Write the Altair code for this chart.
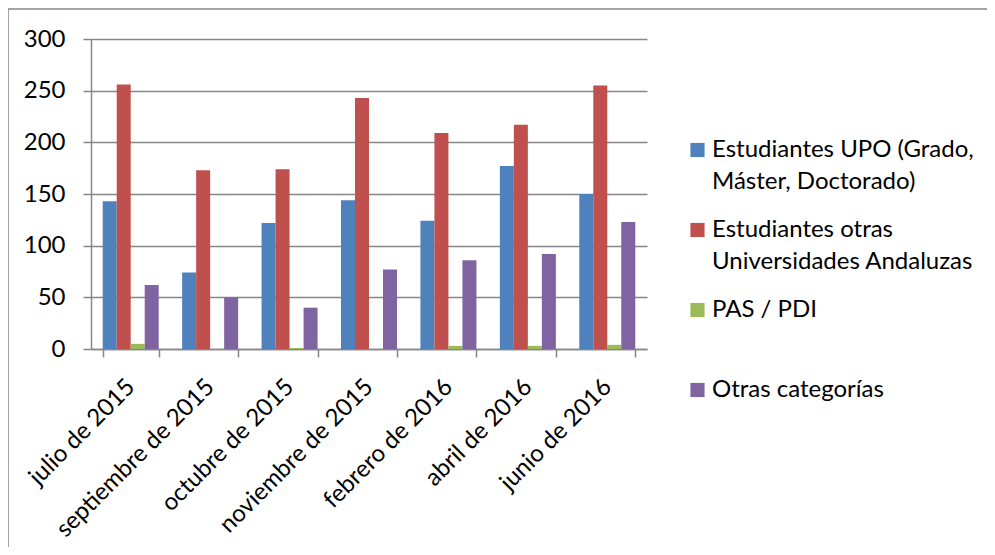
import altair as alt
import pandas as pd

months = ["julio de 2015", "septiembre de 2015", "octubre de 2015", "noviembre de 2015",
          "febrero de 2016", "abril de 2016", "junio de 2016"]
series = ["Estudiantes UPO (Grado, Máster, Doctorado)",
          "Estudiantes otras Universidades Andaluzas",
          "PAS / PDI",
          "Otras categorías"]
legend_lines = [["Estudiantes UPO (Grado,", "Máster, Doctorado)"],
                ["Estudiantes otras", "Universidades Andaluzas"],
                ["PAS / PDI"],
                ["Otras categorías"]]
upo = [143, 74, 122, 144, 124, 177, 150]
otras_univ = [256, 173, 174, 243, 209, 217, 255]
pas_pdi = [5, 0, 1, 0, 3, 3, 4]
otras_cat = [62, 50, 40, 77, 86, 92, 123]
colors = ["#4F81BD", "#C0504D", "#9BBB59", "#8064A2"]

FONT = "Lato"
FS = 24
W, H = 556, 310

rows = []
for vals, s in zip([upo, otras_univ, pas_pdi, otras_cat], series):
    for m, v in zip(months, vals):
        rows.append({"mes": m, "serie": s, "valor": v})
df = pd.DataFrame(rows)

leg_rows = []
for i, (s, lines) in enumerate(zip(series, legend_lines)):
    for j, t in enumerate(lines):
        leg_rows.append({"serie": s, "i": i, "j": j, "txt": t})
leg = pd.DataFrame(leg_rows)

bars = alt.Chart(df).mark_bar().encode(
    x=alt.X("mes:N", sort=months, title=None,
            scale=alt.Scale(paddingInner=0.295, paddingOuter=0.1475),
            axis=alt.Axis(labelAngle=-45, labelAlign="right", labelBaseline="middle",
                          labelPadding=26, labelOffset=0, tickBand="extent", tickSize=8,
                          domainColor="#868686", tickColor="#868686", domainWidth=1.5,
                          tickWidth=1.5, labelFont=FONT, labelFontSize=FS,
                          labelColor="#000000", grid=False, labelLimit=400)),
    xOffset=alt.XOffset("serie:N", sort=series,
                        scale=alt.Scale(paddingInner=0, paddingOuter=0)),
    y=alt.Y("valor:Q", title=None,
            scale=alt.Scale(domain=[0, 300], nice=False),
            axis=alt.Axis(values=[0, 50, 100, 150, 200, 250, 300], grid=True,
                          gridColor="#868686", gridWidth=1.5, domainColor="#868686",
                          domainWidth=1.5, tickColor="#868686", tickWidth=1.5,
                          tickSize=8, labelPadding=18, labelFont=FONT,
                          labelFontSize=FS, labelColor="#000000")),
    color=alt.Color("serie:N", sort=series,
                    scale=alt.Scale(domain=series, range=colors), legend=None),
)

leg_sq = alt.Chart(leg).transform_filter("datum.j == 0").transform_calculate(
    lx="606.5", ly="111 + 80 * datum.i"
).mark_square(size=200, opacity=1).encode(
    x=alt.X("lx:Q", scale=None, axis=None),
    y=alt.Y("ly:Q", scale=None, axis=None),
    color=alt.Color("serie:N", sort=series,
                    scale=alt.Scale(domain=series, range=colors), legend=None),
)

leg_txt = alt.Chart(leg).transform_calculate(
    lx="621", ly="111 + 80 * datum.i + 31.5 * datum.j"
).mark_text(align="left", baseline="middle", font=FONT, fontSize=FS,
            color="#000000").encode(
    x=alt.X("lx:Q", scale=None, axis=None),
    y=alt.Y("ly:Q", scale=None, axis=None),
    text="txt:N",
)

one = alt.Data(values=[{"a": 1}])
border_left = alt.Chart(one).mark_rule(color="#868686", strokeWidth=1.5).encode(
    x=alt.value(-83), y=alt.value(-30), y2=alt.value(H + 198))
border_top = alt.Chart(one).mark_rule(color="#868686", strokeWidth=1.5).encode(
    x=alt.value(-83), x2=alt.value(W + 340), y=alt.value(-30))

chart = alt.layer(bars, leg_sq, leg_txt, border_left, border_top).resolve_scale(
    x="independent", y="independent", color="shared"
).properties(
    width=W, height=H,
    autosize=alt.AutoSizeParams(type="none"),
    padding={"left": 83, "top": 31, "right": 340, "bottom": 198},
    background="#FFFFFF",
).configure_view(stroke=None)

chart.save("out.html", embed_options={"renderer": "svg", "actions": False})
